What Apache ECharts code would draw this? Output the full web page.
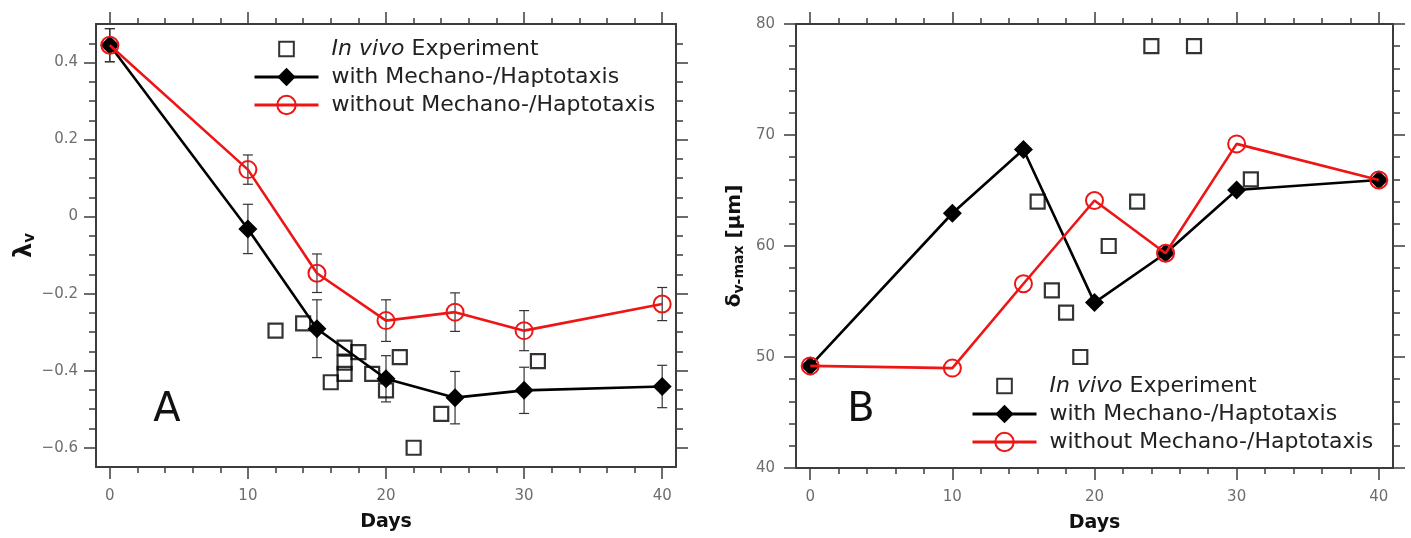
<!DOCTYPE html>
<html>
<head>
<meta charset="utf-8">
<script src="https://cdn.jsdelivr.net/npm/echarts@6/dist/echarts.min.js"></script>
<style>
  html, body { margin: 0; background: #fff; }
  #chart { width: 1411px; height: 538px; }
</style>
</head>
<body>
<div id="chart"></div>
<script>
// days of the simulation runs
const days = [0, 10, 15, 20, 25, 30, 40]

// panel A: lambda_v
const lambdaWith = [0.445, -0.032, -0.291, -0.421, -0.470, -0.451, -0.441]
const lambdaWithErr = [0.043, 0.064, 0.075, 0.060, 0.068, 0.060, 0.055]
const lambdaWithout = [0.445, 0.122, -0.147, -0.270, -0.248, -0.296, -0.227]
const lambdaWithoutErr = [0.043, 0.038, 0.050, 0.054, 0.050, 0.052, 0.043]
const lambdaVivoDays = [12, 14, 16, 17, 17, 17, 18, 19, 20, 21, 22, 24, 31]
const lambdaVivo = [-0.296, -0.277, -0.43, -0.34, -0.379, -0.408, -0.352, -0.408, -0.451, -0.365, -0.6, -0.512, -0.375]

// panel B: delta_v-max [um]
const deltaWith = [49.2, 62.95, 68.7, 54.9, 59.35, 65.05, 65.95]
const deltaWithout = [49.2, 49.0, 56.6, 64.1, 59.35, 69.2, 65.95]
const deltaVivoDays = [16, 17, 18, 19, 21, 23, 24, 27, 31]
const deltaVivo = [64, 56, 54, 50, 60, 64, 78, 78, 66]

// ticks
const dayTicks = [0, 10, 20, 30, 40]
const dayMinorTicks = [2, 4, 6, 8, 12, 14, 16, 18, 22, 24, 26, 28, 32, 34, 36, 38]
const lambdaTicks = [-0.6, -0.4, -0.2, 0, 0.2, 0.4]
const lambdaMinorTicks = [-0.55, -0.5, -0.45, -0.35, -0.3, -0.25, -0.15, -0.1, -0.05, 0.05, 0.1, 0.15, 0.25, 0.3, 0.35, 0.45]
const deltaTicks = [40, 50, 60, 70, 80]
const deltaMinorTicks = [42, 44, 46, 48, 52, 54, 56, 58, 62, 64, 66, 68, 72, 74, 76, 78]

const legendNames = ["In vivo Experiment", "with Mechano-/Haptotaxis", "without Mechano-/Haptotaxis"]

const RED = "#ee1515"
const AXIS = "#3c3c3c"
const FONT = "DejaVu Sans"

// four framed axes (major + minor ticks on both sides)
const makeAxes = (dim, gridIndex, range, major, minor, label, nameOpt) => {
  const sides = dim === "x" ? ["bottom", "top"] : ["left", "right"]
  const minorLen = dim === "x" ? 6 : 7
  const base = { type: "value", gridIndex, min: range[0], max: range[1], splitLine: { show: false } }
  const line = { show: true, onZero: false, lineStyle: { color: AXIS, width: 2 } }
  const noLine = { show: false, onZero: false }
  const tick = (vals, len) => ({ show: true, customValues: vals, length: len, lineStyle: { color: AXIS, width: 1.5 } })
  return [
    { ...base, position: sides[0], axisLine: line, axisTick: tick(major, 12), axisLabel: { customValues: major, ...label }, ...nameOpt },
    { ...base, position: sides[0], axisLine: noLine, axisTick: tick(minor, minorLen), axisLabel: { show: false } },
    { ...base, position: sides[1], axisLine: line, axisTick: tick(major, 12), axisLabel: { show: false } },
    { ...base, position: sides[1], axisLine: noLine, axisTick: tick(minor, minorLen), axisLabel: { show: false } },
  ]
}

const tickLabel = { color: "#6e6e6e", fontSize: 15, fontFamily: FONT }
const daysName = {
  name: "Days", nameLocation: "middle", nameGap: 46,
  nameTextStyle: { color: "#111", fontSize: 19, fontWeight: "bold", fontFamily: FONT },
}

const errorBars = (xi, yi, vals, errs) => ({
  type: "custom", xAxisIndex: xi, yAxisIndex: yi, z: 2,
  data: days.map((d, i) => [d, vals[i] - errs[i], vals[i] + errs[i]]),
  encode: { x: 0, y: [1, 2] },
  renderItem: (params, api) => {
    const lo = api.coord([api.value(0), api.value(1)])
    const hi = api.coord([api.value(0), api.value(2)])
    const st = { stroke: "#333", lineWidth: 1.2 }
    return {
      type: "group",
      children: [
        { type: "line", shape: { x1: lo[0], y1: lo[1], x2: hi[0], y2: hi[1] }, style: st },
        { type: "line", shape: { x1: lo[0] - 5, y1: lo[1], x2: lo[0] + 5, y2: lo[1] }, style: st },
        { type: "line", shape: { x1: hi[0] - 5, y1: hi[1], x2: hi[0] + 5, y2: hi[1] }, style: st },
      ],
    }
  },
})

const vivoSeries = (xi, yi, xs, ys) => ({
  name: legendNames[0], type: "scatter", xAxisIndex: xi, yAxisIndex: yi, z: 2,
  data: xs.map((d, i) => [d, ys[i]]),
  symbol: "rect", symbolSize: 14,
  itemStyle: { color: "rgba(255,255,255,0)", borderColor: "#000", borderWidth: 2.2 },
})

const withSeries = (xi, yi, vals) => ({
  name: legendNames[1], type: "line", xAxisIndex: xi, yAxisIndex: yi, z: 3,
  data: days.map((d, i) => [d, vals[i]]),
  symbol: "diamond", symbolSize: 19,
  lineStyle: { color: "#000", width: 2.6 },
  itemStyle: { color: "#000" },
})

const withoutSeries = (xi, yi, vals) => ({
  name: legendNames[2], type: "line", xAxisIndex: xi, yAxisIndex: yi, z: 4,
  data: days.map((d, i) => [d, vals[i]]),
  symbol: "circle", symbolSize: 17,
  lineStyle: { color: RED, width: 2.6 },
  itemStyle: { color: "rgba(255,255,255,0)", borderColor: RED, borderWidth: 2 },
})

const legendBase = {
  orient: "vertical", itemWidth: 64, itemHeight: 23, itemGap: 2,
  data: [
    // square with empty margin in its path so it keeps its size
    { name: legendNames[0], icon: "path://M0,0M22,22M4,4H18V18H4Z" },
    { name: legendNames[1] },
    { name: legendNames[2] },
  ],
  lineStyle: { width: 3 },
  formatter: (n) => (n === legendNames[0] ? "{i|In vivo} Experiment" : n),
  textStyle: {
    color: "#222", fontSize: 22, fontFamily: FONT, lineHeight: 26, padding: [0, 0, 0, 8],
    rich: { i: { fontStyle: "italic", fontSize: 22, fontFamily: FONT, color: "#222" } },
  },
}

const option = {
  backgroundColor: "#fff",
  animation: false,
  grid: [
    { left: 96, top: 24, width: 580, height: 443 },
    { left: 796, top: 24, width: 597, height: 444 },
  ],
  xAxis: [
    ...makeAxes("x", 0, [-1, 41], dayTicks, dayMinorTicks, { ...tickLabel, margin: 22 }, daysName),
    ...makeAxes("x", 1, [-1, 41], dayTicks, dayMinorTicks, { ...tickLabel, margin: 22 }, daysName),
  ],
  yAxis: [
    ...makeAxes("y", 0, [-0.65, 0.5], lambdaTicks, lambdaMinorTicks,
      { ...tickLabel, margin: 18, formatter: (v) => String(v).replace("-", "\u2212") },
      {
        name: "{b|λ}{s|v}", nameLocation: "middle", nameGap: 56,
        nameTextStyle: {
          rich: {
            b: { fontSize: 24, fontWeight: "bold", fontFamily: FONT, color: "#111" },
            s: { fontSize: 15, fontWeight: "bold", fontFamily: FONT, color: "#111", padding: [10, 0, 0, 0] },
          },
        },
      }),
    ...makeAxes("y", 1, [40, 80], deltaTicks, deltaMinorTicks,
      { ...tickLabel, margin: 21 },
      {
        name: "{b|δ}{s|v-max}{b| [μm]}", nameLocation: "middle", nameGap: 50,
        nameTextStyle: {
          rich: {
            b: { fontSize: 20, fontWeight: "bold", fontFamily: FONT, color: "#111" },
            s: { fontSize: 14, fontWeight: "bold", fontFamily: FONT, color: "#111", padding: [9, 0, 0, 0] },
          },
        },
      }),
  ],
  legend: [
    { ...legendBase, left: 248, top: 31 },
    { ...legendBase, left: 966, top: 368 },
  ],
  graphic: [
    { type: "text", x: 167, y: 411, style: { text: "A", font: `40px "${FONT}"`, fill: "#111", align: "center", verticalAlign: "middle" } },
    { type: "text", x: 861, y: 411, style: { text: "B", font: `40px "${FONT}"`, fill: "#111", align: "center", verticalAlign: "middle" } },
  ],
  series: [
    vivoSeries(0, 0, lambdaVivoDays, lambdaVivo),
    errorBars(0, 0, lambdaWith, lambdaWithErr),
    errorBars(0, 0, lambdaWithout, lambdaWithoutErr),
    withSeries(0, 0, lambdaWith),
    withoutSeries(0, 0, lambdaWithout),
    vivoSeries(4, 4, deltaVivoDays, deltaVivo),
    withSeries(4, 4, deltaWith),
    withoutSeries(4, 4, deltaWithout),
  ],
}

const myChart = echarts.init(document.getElementById("chart"))
myChart.setOption(option)
</script>
</body>
</html>
